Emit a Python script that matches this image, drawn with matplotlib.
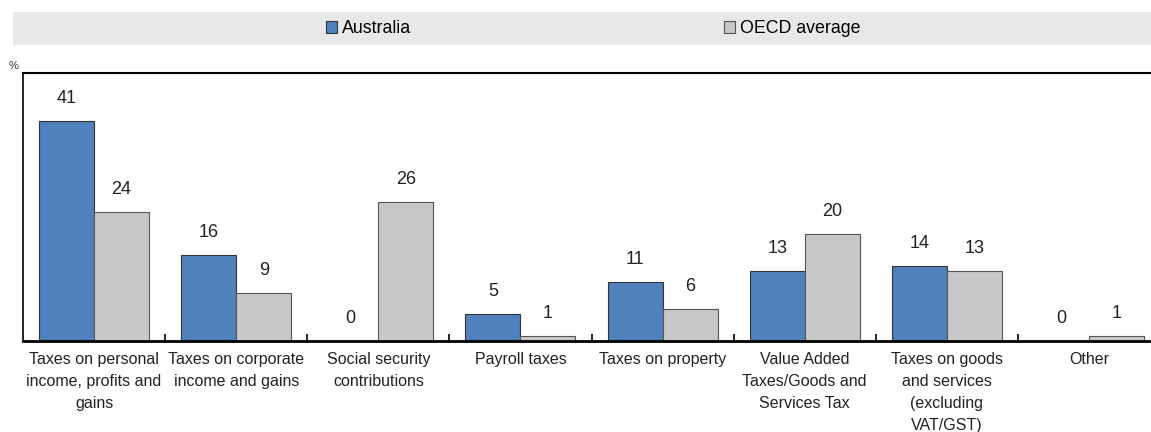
import matplotlib.pyplot as plt
from matplotlib.patches import Rectangle
import numpy as np

plt.rcParams['font.family'] = ['Liberation Sans', 'DejaVu Sans']

categories = ['Taxes on personal\nincome, profits and\ngains',
              'Taxes on corporate\nincome and gains',
              'Social security\ncontributions',
              'Payroll taxes',
              'Taxes on property',
              'Value Added\nTaxes/Goods and\nServices Tax',
              'Taxes on goods\nand services\n(excluding\nVAT/GST)',
              'Other']
australia = [41, 16, 0, 5, 11, 13, 14, 0]
oecd = [24, 9, 26, 1, 6, 20, 13, 1]

W, H = 1151, 432
fig = plt.figure(figsize=(W / 100, H / 100), dpi=100)

# legend band
fig.add_artist(Rectangle((13 / W, 1 - 45 / H), 1.0, 33 / H, transform=fig.transFigure,
                         facecolor='#e8e8e8', edgecolor='none', zorder=0))

ax = fig.add_axes([23 / W, 91 / H, 1137 / W, 268 / H])
x = np.arange(len(categories))
bw = 0.387
b1 = ax.bar(x - bw / 2, australia, bw, color='#4f81bd', edgecolor='#333333', linewidth=0.8, label='Australia')
b2 = ax.bar(x + bw / 2, oecd, bw, color='#c8c8c8', edgecolor='#555555', linewidth=0.8, label='OECD average')

for bars, vals in ((b1, australia), (b2, oecd)):
    for r, v in zip(bars, vals):
        ax.annotate(str(v), (r.get_x() + r.get_width() / 2, v), xytext=(0, 10),
                    textcoords='offset points', ha='center', va='bottom', fontsize=13, color='#222222')

ax.set_xlim(-0.5, 7.5)
ax.set_ylim(0, 50)
ax.set_yticks([])
ax.set_xticks(x)
ax.set_xticklabels(categories, fontsize=11.5, color='#222222', linespacing=1.58)
ax.tick_params(axis='x', which='major', length=0, pad=8)
ax.set_xticks(x[:-1] + 0.5, minor=True)
ax.tick_params(axis='x', which='minor', direction='in', length=5, width=1.2, color='black')
ax.spines['right'].set_visible(False)
ax.spines['left'].set_linewidth(1.2)
ax.spines['top'].set_linewidth(1.5)
ax.spines['bottom'].set_linewidth(2)

fig.text(9 / W, 1 - 66 / H, '%', fontsize=8, color='#333333', va='center')

fig.legend(handles=[b1, b2], loc='center', bbox_to_anchor=(593 / W, 1 - 28.5 / H), ncol=2,
           frameon=False, fontsize=12.8, handlelength=0.62, handleheight=0.62, handletextpad=0.28,
           columnspacing=17.6)

fig.savefig('out.png', dpi=100)
